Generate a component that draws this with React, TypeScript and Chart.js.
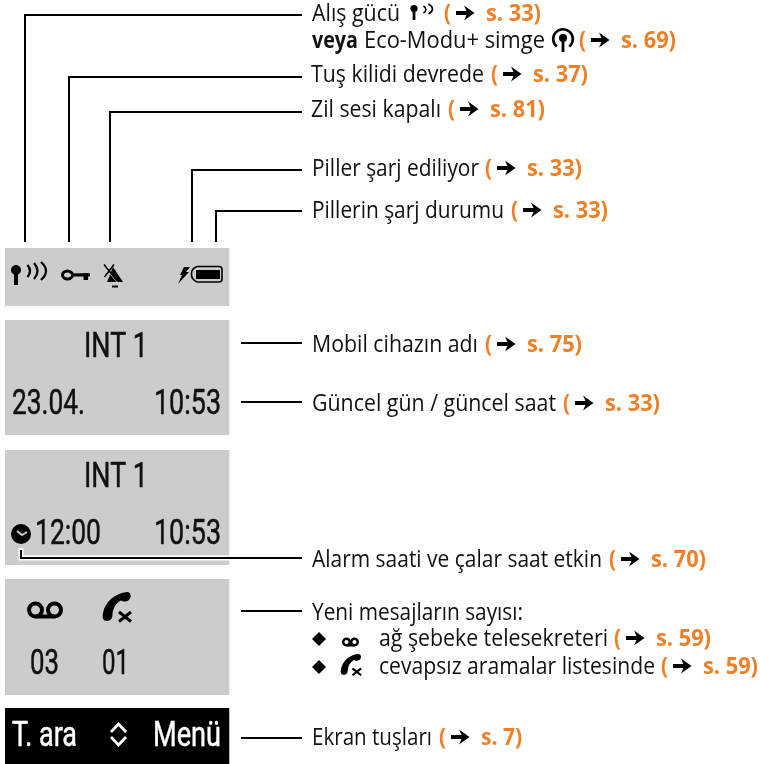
import React, { useEffect, useRef } from "react";
import { Chart, registerables } from "chart.js";

Chart.register(...registerables);

// Grey / black display panels
const panelTops = [248, 320, 450, 579, 708];
const panelBottoms = [306, 435, 565, 695, 764];
const panelLeft = 5;
const panelRight = 229.5;

// Elbow leader lines from the status icons
const elbowXs = [25, 69, 110, 192, 216];
const elbowYs = [15, 77, 112, 170, 211];
const elbowFoot = 242;
const lineEnd = 302;

// Straight leader lines
const stubYs = [343, 402, 611, 738];
const stubStart = 241;

// Annotation text
const mainLabels = [
  "Alış gücü",
  "Eco-Modu+ simge",
  "Tuş kilidi devrede",
  "Zil sesi kapalı",
  "Piller şarj ediliyor",
  "Pillerin şarj durumu",
  "Mobil cihazın adı",
  "Güncel gün / güncel saat",
  "Alarm saati ve çalar saat etkin",
  "ağ şebeke telesekreteri",
  "cevapsız aramalar listesinde",
  "Ekran tuşları",
];
const mainBaselines = [20, 47, 81, 116, 175, 217, 351, 410, 566, 645, 673, 744];
const mainLefts = [312, 364, 311, 311, 312, 312, 312, 312, 312, 379, 379, 312];
const mainRights = [400, 545, 484, 441, 479, 504, 478, 556, 602, 608, 655, 432];
const refLabels = ["s. 33)", "s. 69)", "s. 37)", "s. 81)", "s. 33)", "s. 33)", "s. 75)", "s. 33)", "s. 70)", "s. 59)", "s. 59)", "s. 7)"];
const refParenXs = [444, 579, 491, 448, 485, 511, 485, 563, 609, 614, 661, 439];

// Display text
const panelTexts = ["INT 1", "23.04.", "10:53", "INT 1", "12:00", "10:53", "03", "01"];
const panelTextLefts = [84, 12, 154, 84, 35, 154, 30, 102];
const panelTextRights = [148, 85, 221, 148, 101, 221, 59, 129];
const panelTextBaselines = [357, 414, 414, 487, 544, 544, 674, 674];
const softKeyTexts = ["T. ara", "Menü"];
const softKeyLefts = [12, 153];
const softKeyRights = [77, 221];

const ORANGE = "#ef8027";
const BODY = '"Open Sans", sans-serif';
const DISPLAY = "Roboto, sans-serif";

function fitText(c: CanvasRenderingContext2D, t: string, x0: number, x1: number, y: number, thicken = 0) {
  const w = c.measureText(t).width;
  c.save();
  c.translate(x0, y);
  c.scale((x1 - x0) / w, 1);
  c.textAlign = "left";
  c.textBaseline = "alphabetic";
  c.fillText(t, 0, 0);
  if (thicken > 0) {
    c.strokeStyle = c.fillStyle;
    c.lineWidth = thicken;
    c.strokeText(t, 0, 0);
  }
  c.restore();
}

function arrow(c: CanvasRenderingContext2D, x: number, y: number) {
  c.fillStyle = "#000";
  c.beginPath();
  c.moveTo(x, y - 2);
  c.lineTo(x + 10.5, y - 2);
  c.lineTo(x + 8, y - 7.5);
  c.lineTo(x + 18.5, y);
  c.lineTo(x + 8, y + 7.5);
  c.lineTo(x + 10.5, y + 2);
  c.lineTo(x, y + 2);
  c.closePath();
  c.fill();
}

function arcThrough(c: CanvasRenderingContext2D, x0: number, y0: number, x1: number, y1: number) {
  c.beginPath();
  c.moveTo(x0, y0);
  c.quadraticCurveTo(x1 + (x1 - x0), (y0 + y1) / 2, x0, y1);
  c.stroke();
}

function pin(c: CanvasRenderingContext2D, x: number, y: number, r: number, w: number, bottom: number) {
  c.fillStyle = "#000";
  c.beginPath();
  c.arc(x, y, r, 0, Math.PI * 2);
  c.fill();
  c.fillRect(x - w / 2, y, w, bottom - y);
}

function tape(c: CanvasRenderingContext2D, x0: number, x1: number, y: number, r: number, lw: number) {
  c.strokeStyle = "#000";
  c.lineWidth = lw;
  c.beginPath();
  c.arc(x0 + r, y, r - lw / 2, 0, Math.PI * 2);
  c.stroke();
  c.beginPath();
  c.arc(x1 - r, y, r - lw / 2, 0, Math.PI * 2);
  c.stroke();
  c.beginPath();
  c.moveTo(x0 + r, y + r - lw / 2);
  c.lineTo(x1 - r, y + r - lw / 2);
  c.stroke();
}

function phone(c: CanvasRenderingContext2D, x: number, y: number, s: number) {
  c.fillStyle = "#000";
  c.strokeStyle = "#000";
  c.beginPath();
  c.moveTo(x + 24 * s, y);
  c.bezierCurveTo(x + 28 * s, y, x + 29 * s, y + 5 * s, x + 26 * s, y + 8 * s);
  c.bezierCurveTo(x + 23 * s, y + 10 * s, x + 20 * s, y + 10 * s, x + 18 * s, y + 8.5 * s);
  c.bezierCurveTo(x + 13 * s, y + 11 * s, x + 10 * s, y + 16 * s, x + 9.5 * s, y + 22 * s);
  c.bezierCurveTo(x + 9.5 * s, y + 27 * s, x + 7 * s, y + 29 * s, x + 4 * s, y + 29 * s);
  c.bezierCurveTo(x, y + 29 * s, x - 1 * s, y + 26 * s, x, y + 21 * s);
  c.bezierCurveTo(x + 2 * s, y + 10 * s, x + 12 * s, y + 1 * s, x + 24 * s, y);
  c.closePath();
  c.fill();
  c.lineWidth = 3 * s;
  c.lineCap = "butt";
  c.beginPath();
  c.moveTo(x + 16 * s, y + 20 * s);
  c.lineTo(x + 28 * s, y + 29.5 * s);
  c.moveTo(x + 28 * s, y + 20 * s);
  c.lineTo(x + 16 * s, y + 29.5 * s);
  c.stroke();
}

function drawIcons(c: CanvasRenderingContext2D) {
  // status panel: antenna
  pin(c, 16, 270, 5, 4, 285);
  c.strokeStyle = "#000";
  c.lineWidth = 2.3;
  arcThrough(c, 27.5, 265, 30, 277);
  arcThrough(c, 34, 263, 37.5, 279);
  arcThrough(c, 41, 262, 46, 280);

  // key
  c.lineWidth = 3;
  c.beginPath();
  c.ellipse(67.5, 275, 5, 4, 0, 0, Math.PI * 2);
  c.stroke();
  c.fillStyle = "#000";
  c.fillRect(72, 273.3, 18, 3.2);
  c.fillRect(83.5, 273.3, 4.5, 6.7);

  // silent bell
  c.beginPath();
  c.moveTo(113, 267);
  c.lineTo(123, 282);
  c.lineTo(107, 282);
  c.closePath();
  c.fill();
  c.fillRect(112, 285.5, 6, 2);
  c.strokeStyle = "#ccc";
  c.lineWidth = 1.4;
  c.beginPath();
  c.moveTo(106, 268);
  c.lineTo(117, 282);
  c.stroke();
  c.strokeStyle = "#000";
  c.lineWidth = 1.6;
  c.beginPath();
  c.moveTo(104, 264.5);
  c.lineTo(117, 281);
  c.moveTo(114, 264.5);
  c.lineTo(104.5, 277);
  c.stroke();

  // lightning + battery
  c.fillStyle = "#000";
  c.beginPath();
  c.moveTo(184, 267);
  c.lineTo(190, 267);
  c.lineTo(186, 272);
  c.lineTo(189, 272);
  c.lineTo(178, 284);
  c.lineTo(182, 275);
  c.lineTo(180, 275);
  c.closePath();
  c.fill();
  c.lineWidth = 1.6;
  c.beginPath();
  c.moveTo(197, 266.5);
  c.lineTo(219, 266.5);
  c.quadraticCurveTo(222, 266.5, 222, 269.5);
  c.lineTo(222, 279);
  c.quadraticCurveTo(222, 282, 219, 282);
  c.lineTo(197, 282);
  c.quadraticCurveTo(191, 279, 191.5, 274);
  c.quadraticCurveTo(191, 269, 197, 266.5);
  c.stroke();
  c.fillRect(196, 270, 24, 9);

  // alarm clock
  c.beginPath();
  c.arc(21, 534, 10, 0, Math.PI * 2);
  c.fill();
  c.strokeStyle = "#ccc";
  c.lineWidth = 2;
  c.beginPath();
  c.moveTo(17, 531);
  c.lineTo(22, 535);
  c.lineTo(27, 532);
  c.stroke();

  // message panel
  tape(c, 27, 63, 610, 8.5, 4);
  phone(c, 103, 592, 1);

  // soft key chevrons
  c.strokeStyle = "#fff";
  c.lineWidth = 2.8;
  c.lineCap = "butt";
  c.beginPath();
  c.moveTo(111, 732);
  c.lineTo(118.5, 724);
  c.lineTo(126, 732);
  c.moveTo(111, 737);
  c.lineTo(118.5, 745);
  c.lineTo(126, 737);
  c.stroke();

  // antenna in first annotation row
  pin(c, 414, 8.5, 3.6, 2.8, 20);
  c.strokeStyle = "#000";
  c.lineWidth = 1.6;
  arcThrough(c, 423.5, 6, 426, 13);
  arcThrough(c, 428.5, 4, 432.5, 14);

  // eco icon
  c.lineWidth = 2.6;
  c.beginPath();
  c.arc(563, 39, 9.8, Math.PI * 0.72, Math.PI * 0.28);
  c.stroke();
  pin(c, 563, 38, 4, 2.8, 52);

  // bullet list
  [639, 667].forEach((y) => {
    c.beginPath();
    c.moveTo(312, y);
    c.lineTo(319, y - 7);
    c.lineTo(326, y);
    c.lineTo(319, y + 7);
    c.closePath();
    c.fill();
  });
  tape(c, 342, 359, 642, 4.5, 2.4);
  phone(c, 341, 654, 0.72);
}

const textPlugin = {
  id: "annotationText",
  afterDatasetsDraw(chart: Chart) {
    const c = chart.ctx;
    c.save();
    drawIcons(c);

    // annotations
    c.fillStyle = "#111";
    c.font = `23px ${BODY}`;
    mainLabels.forEach((t, i) => {
      fitText(c, t, mainLefts[i], mainRights[i], mainBaselines[i] + 0.5);
    });
    fitText(c, "Yeni mesajların sayısı:", 312, 523, 619.5);
    c.font = `bold 23px ${BODY}`;
    fitText(c, "veya", 312, 358, 47.5);

    refLabels.forEach((t, i) => {
      const y = mainBaselines[i] + 0.5;
      const x = refParenXs[i];
      c.fillStyle = ORANGE;
      c.font = `bold 23px ${BODY}`;
      fitText(c, "(", x, x + 7, y);
      fitText(c, t, x + 42, x + 42 + (t.length === 5 ? 41 : 55), y);
      arrow(c, x + 12, y - 7.5);
    });

    // display texts
    c.fillStyle = "#111";
    c.font = `400 35px ${DISPLAY}`;
    panelTexts.forEach((t, i) => {
      fitText(c, t, panelTextLefts[i], panelTextRights[i], panelTextBaselines[i], 0.5);
    });
    c.fillStyle = "#ffffff";
    softKeyTexts.forEach((t, i) => {
      fitText(c, t, softKeyLefts[i], softKeyRights[i], 746, 0.5);
    });
    c.restore();
  },
};

function lineSet(data: { x: number; y: number }[], color: string, width: number, order: number) {
  return {
    type: "scatter" as const,
    data,
    showLine: true,
    borderColor: color,
    borderWidth: width,
    pointRadius: 0,
    borderCapStyle: "butt" as const,
    borderJoinStyle: "miter" as const,
    tension: 0,
    order,
  };
}

export default function App() {
  const ref = useRef<HTMLCanvasElement>(null);
  useEffect(() => {
    if (!ref.current) return;
    const panels = panelTops.map((top, i) => ({
      ...lineSet(
        [
          { x: panelLeft, y: panelBottoms[i] },
          { x: panelRight, y: panelBottoms[i] },
        ],
        "rgba(0,0,0,0)",
        0,
        10
      ),
      fill: {
        target: { value: top },
        above: i === 4 ? "#000000" : "#cccccc",
        below: i === 4 ? "#000000" : "#cccccc",
      },
    }));
    const elbows = elbowXs.map((x, i) =>
      lineSet(
        [
          { x, y: elbowFoot },
          { x, y: elbowYs[i] },
          { x: lineEnd, y: elbowYs[i] },
        ],
        "#000",
        2,
        5
      )
    );
    const stubs = stubYs.map((y) =>
      lineSet(
        [
          { x: stubStart, y },
          { x: lineEnd, y },
        ],
        "#000",
        2,
        5
      )
    );
    const alarmHalo = lineSet(
      [
        { x: 21, y: 548 },
        { x: 21, y: 558 },
        { x: 229, y: 558 },
      ],
      "#fff",
      5,
      7
    );
    const alarm = lineSet(
      [
        { x: 21, y: 550 },
        { x: 21, y: 558 },
        { x: lineEnd, y: 558 },
      ],
      "#000",
      2,
      5
    );
    const chart = new Chart(ref.current, {
      type: "scatter",
      data: { datasets: [...panels, alarmHalo, alarm, ...elbows, ...stubs] as any },
      options: {
        animation: false,
        responsive: false,
        devicePixelRatio: 1,
        layout: { padding: 0 },
        plugins: { legend: { display: false }, tooltip: { enabled: false }, title: { display: false } },
        scales: {
          x: { type: "linear", min: 0, max: 760, display: false },
          y: { type: "linear", min: 0, max: 764, reverse: true, display: false },
        },
      },
      plugins: [textPlugin],
    });
    return () => chart.destroy();
  }, []);
  return (
    <canvas
      ref={ref}
      width={760}
      height={764}
      style={{ position: "fixed", left: 0, top: 0, width: 760, height: 764, background: "#fff" }}
    />
  );
}
